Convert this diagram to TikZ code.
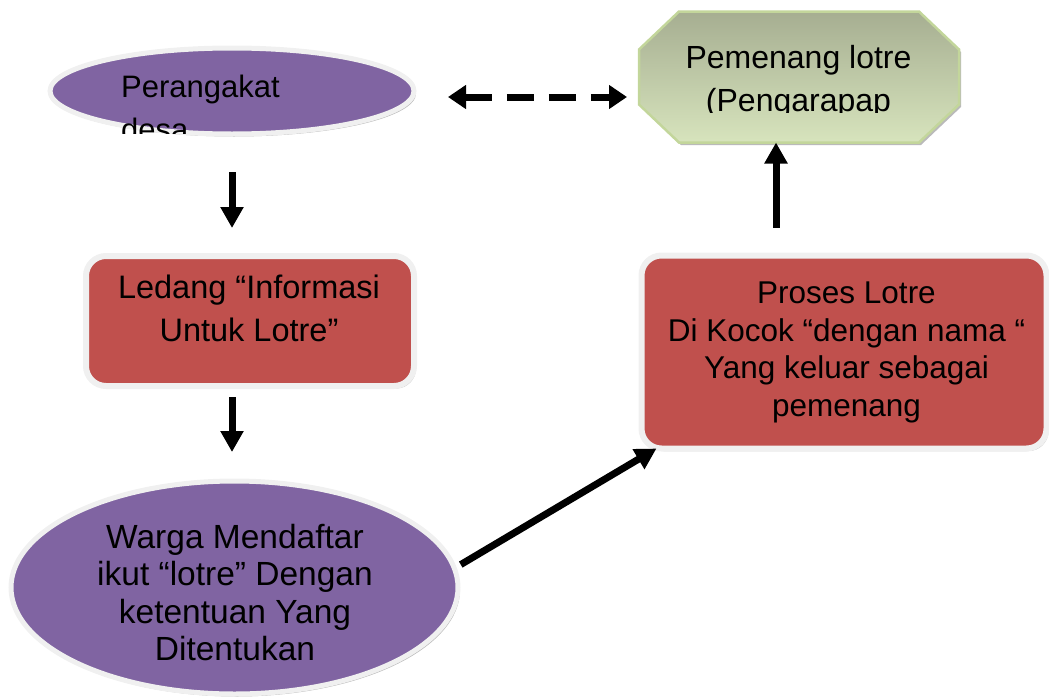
\documentclass[tikz,border=0pt]{standalone}
\usepackage{fontspec}
\setmainfont{Liberation Sans}
\usepackage{tikz}
\usetikzlibrary{shapes.geometric,shadows,arrows.meta,calc}

\definecolor{ungu}{RGB}{128,100,162}
\definecolor{merah}{RGB}{192,80,77}
\definecolor{bingkai}{RGB}{240,240,240}
\definecolor{hijaugaris}{RGB}{195,214,155}
\definecolor{hijauatas}{RGB}{166,174,145}
\definecolor{hijaubawah}{RGB}{215,228,189}

\tikzset{
    bayang/.style={drop shadow={shadow xshift=2pt, shadow yshift=-2.5pt, fill=black!45, opacity=.6}},
    lonjong/.style={ellipse, fill=ungu, draw=bingkai, line width=5pt, outer sep=0pt, bayang},
    kotak/.style={rectangle, rounded corners=20pt, fill=merah, draw=bingkai, line width=6pt, outer sep=0pt, bayang},
    segidelapan/.style={draw=hijaugaris, line width=2.5pt, top color=hijauatas, bottom color=hijaubawah, bayang},
    tulisan/.style={inner sep=0pt, align=center, font=\fontsize{#1}{43}\selectfont},
    tulisan rapat/.style={inner sep=0pt, align=center, font=\fontsize{#1}{37.5}\selectfont},
    panah/.style={line width=7pt, -{Triangle[length=21pt, width=22pt]}},
    dua arah/.style={line width=7pt, dash pattern=on 27pt off 15pt,
        {Triangle[length=18pt, width=23pt]}-{Triangle[length=18pt, width=23pt]}},
}

\begin{document}
\begin{tikzpicture}[x=1pt, y=-1pt]
    \useasboundingbox (0,0) rectangle (1049,699);
    % bentuk
    \node[lonjong, minimum width=364pt, minimum height=86pt] (desa) at (232,91) {};
    \node[kotak, minimum width=328pt, minimum height=130pt] (ledang) at (250,321) {};
    \node[lonjong, minimum width=447pt, minimum height=213pt] (warga) at (234.5,587.5) {};
    \node[kotak, minimum width=405pt, minimum height=193pt] (proses) at (844,352) {};
    \node[rectangle, minimum width=320pt, minimum height=131pt, outer sep=0pt] (menang) at (799,77) {};
    \path[segidelapan] ([xshift=40pt]menang.north west) -- ([xshift=-40pt]menang.north east)
        -- ([yshift=-38pt]menang.north east) -- ([yshift=38pt]menang.south east)
        -- ([xshift=-40pt]menang.south east) -- ([xshift=40pt]menang.south west)
        -- ([yshift=38pt]menang.south west) -- ([yshift=-38pt]menang.north west) -- cycle;

    % tulisan (dua kotak teks terpotong)
    \begin{scope}
        \clip (0,0) rectangle (1049,133);
        \node[tulisan=31, align=left, anchor=north west] (t-desa) at (121,75) {Perangakat\\desa};
    \end{scope}
    \begin{scope}
        \clip (0,0) rectangle (1049,112);
        \node[tulisan=32, anchor=north] (t-menang) at (798.5,45) {Pemenang lotre\\(Pengarapap};
    \end{scope}
    \node[tulisan=32.5, anchor=north] (t-ledang) at (249,275) {Ledang “Informasi\\Untuk Lotre”};
    \node[tulisan rapat=31.5, anchor=north] (t-proses) at (846.5,282) {Proses Lotre\\Di Kocok “dengan nama “\\Yang keluar sebagai\\pemenang};
    \node[tulisan rapat=33.5, anchor=north] (t-warga) at (235,524) {Warga Mendaftar\\ikut “lotre” Dengan\\ketentuan Yang\\Ditentukan};

    % panah
    \coordinate (k1) at ($(desa.east)+(34,6)$);
    \draw[dua arah, shorten >=12pt] (k1) -- (k1 -| menang.west);
    \draw[panah, shorten <=38pt, shorten >=28pt] (desa.south) -- (desa.south |- ledang.north);
    \draw[panah, shorten <=11pt, shorten >=29pt] (desa.south |- ledang.south) -- (desa.south |- warga.north);
    \draw[panah] ([xshift=8pt]warga.6) -- ([xshift=15pt]proses.south west);
    \draw[panah, shorten <=28pt] ([xshift=-23pt]menang.south |- proses.north) -- ([xshift=-23pt]menang.south);
\end{tikzpicture}
\end{document}
